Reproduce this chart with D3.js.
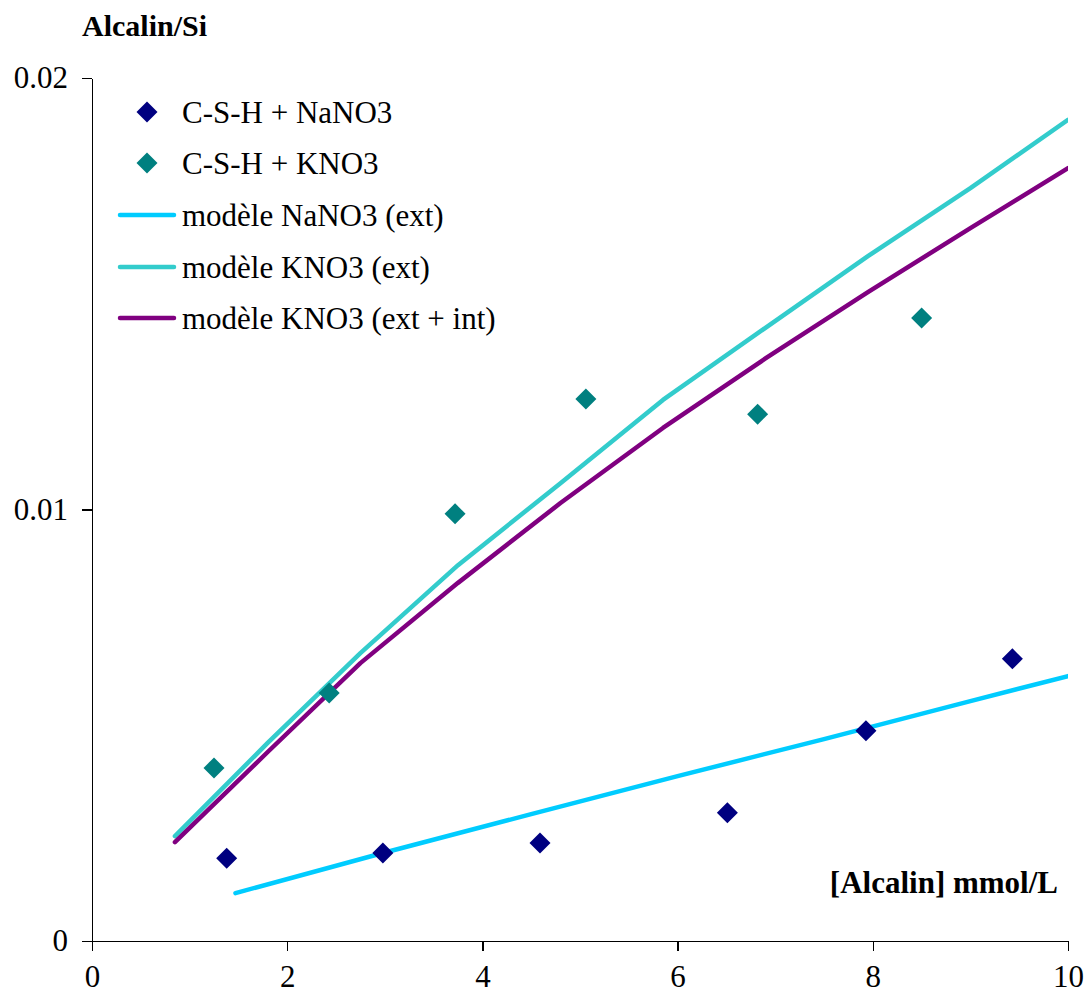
<!DOCTYPE html>
<html><head><meta charset="utf-8">
<script src="https://cdn.jsdelivr.net/npm/d3@7/dist/d3.min.js"></script>
<style>body{margin:0;background:#fff}svg{display:block}
svg text{font-family:'Liberation Serif','Tinos','Times New Roman',Times,'DejaVu Serif',serif !important;fill:#000}</style>
</head><body><svg id="c" width="1084" height="1005"></svg>
<script>
const xTicks = [0, 2, 4, 6, 8, 10];
const yTicks = [0, 0.01, 0.02];
const yTickLabels = ["0", "0.01", "0.02"];

const naX = [1.38, 2.98, 4.59, 6.51, 7.93, 9.43];
const naY = [0.00192, 0.00204, 0.00227, 0.00297, 0.00487, 0.00654];

const kX = [1.25, 2.43, 3.72, 5.06, 6.82, 8.50];
const kY = [0.00401, 0.00575, 0.00990, 0.01256, 0.01221, 0.01444];

const modNaX = [1.47, 3.0, 4.5, 6.0, 7.5, 9.0, 10.0];
const modNaY = [0.00111, 0.00205, 0.00294, 0.00382, 0.00468, 0.00556, 0.00614];

const modKX = [0.85, 1.8, 2.75, 3.75, 4.8, 5.85, 6.9, 7.95, 9.0, 10.0];
const modKextY = [0.00243, 0.00459, 0.00667, 0.00871, 0.01061, 0.01254, 0.01421, 0.01587, 0.01745, 0.01903];
const modKintY = [0.00229, 0.00438, 0.00644, 0.00830, 0.01015, 0.01189, 0.01350, 0.01504, 0.01652, 0.01791];

const legendLabels = ["C-S-H + NaNO3", "C-S-H + KNO3", "modèle NaNO3 (ext)", "modèle KNO3 (ext)", "modèle KNO3 (ext + int)"];
const colors = {na: "#000080", k: "#008080", modNa: "#00CCFF", modKext: "#33CCCC", modKint: "#800080"};
const FONT = "'Liberation Serif', Tinos, 'Times New Roman', Times, 'DejaVu Serif', serif";

const svg = d3.select("#c").attr("font-family", FONT);
const x = d3.scaleLinear().domain([0, 10]).range([92, 1068]);
const y = d3.scaleLinear().domain([0, 0.02]).range([941, 78]);

// axes
const xAxis = svg.append("g").attr("transform", "translate(0,941)")
  .call(d3.axisBottom(x).tickValues(xTicks).tickSize(10).tickSizeOuter(0).tickPadding(30).tickFormat(d3.format("d")));
const yAxis = svg.append("g").attr("transform", "translate(92,0)")
  .call(d3.axisLeft(y).tickValues(yTicks).tickSize(10).tickSizeOuter(0).tickPadding(14).tickFormat((d, i) => yTickLabels[i]));
[xAxis, yAxis].forEach(g => {
  g.attr("font-family", FONT).attr("font-size", 31);
  g.selectAll("path.domain").attr("stroke", "#000").attr("stroke-width", 1.2).attr("shape-rendering", "crispEdges");
  g.selectAll(".tick line").attr("stroke", "#000").attr("stroke-width", 1.2).attr("shape-rendering", "crispEdges");
  g.selectAll(".tick text").style("font-family", FONT).attr("font-size", 31).attr("fill", "#000");
});
xAxis.selectAll(".tick text").attr("dy", "0.2em");

// clip
svg.append("clipPath").attr("id", "clip").append("rect").attr("x", 92).attr("y", 60).attr("width", 976).attr("height", 900);
const plot = svg.append("g").attr("clip-path", "url(#clip)");

const line = d3.line().x(d => x(d[0])).y(d => y(d[1]));
function drawLine(xs, ys, color) {
  plot.append("path").datum(xs.map((v, i) => [v, ys[i]]))
    .attr("d", line).attr("fill", "none").attr("stroke", color)
    .attr("stroke-width", 4.5).attr("stroke-linecap", "round").attr("stroke-linejoin", "round");
}
drawLine(modNaX, modNaY, colors.modNa);
drawLine(modKX, modKextY, colors.modKext);
drawLine(modKX, modKintY, colors.modKint);

const diamond = "M0,-10.5L10.5,0L0,10.5L-10.5,0Z";
function drawPts(xs, ys, color) {
  svg.append("g").selectAll("path").data(xs.map((v, i) => [v, ys[i]])).join("path")
    .attr("d", diamond).attr("fill", color)
    .attr("transform", d => `translate(${x(d[0])},${y(d[1])})`);
}
drawPts(naX, naY, colors.na);
drawPts(kX, kY, colors.k);

// titles
svg.append("text").attr("x", 82).attr("y", 36).style("font-family", FONT).attr("font-size", 30).attr("font-weight", "bold").text("Alcalin/Si");
svg.append("text").attr("x", 1058).attr("y", 893).style("font-family", FONT).attr("text-anchor", "end").attr("font-size", 31).attr("font-weight", "bold").text("[Alcalin] mmol/L");

// legend
const legY = [112, 163, 215, 267, 318];
const legend = svg.append("g");
legendLabels.forEach((lab, i) => {
  const cy = legY[i];
  if (i < 2) {
    legend.append("path").attr("d", diamond).attr("fill", i === 0 ? colors.na : colors.k)
      .attr("transform", `translate(147,${cy})`);
  } else {
    const c = [colors.modNa, colors.modKext, colors.modKint][i - 2];
    legend.append("line").attr("x1", 120).attr("x2", 174).attr("y1", cy).attr("y2", cy)
      .attr("stroke", c).attr("stroke-width", 4.5).attr("stroke-linecap", "round");
  }
  legend.append("text").attr("x", 182).attr("y", cy + 11).style("font-family", FONT).attr("font-size", 31).text(lab);
});
</script></body></html>
